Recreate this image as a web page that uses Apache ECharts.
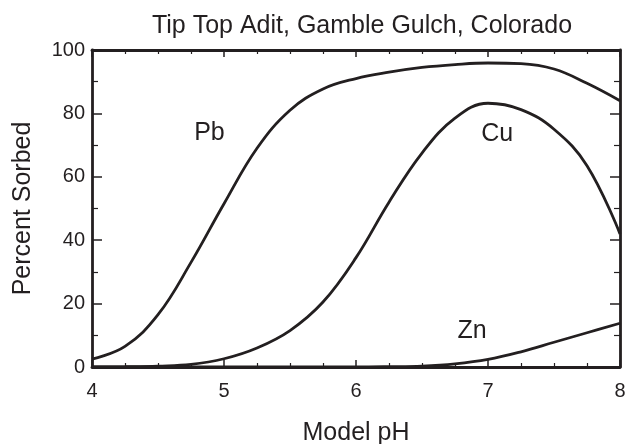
<!DOCTYPE html>
<html>
<head>
<meta charset="utf-8">
<script src="https://cdn.jsdelivr.net/npm/echarts@6/dist/echarts.min.js"></script>
<style>
  html, body { margin: 0; padding: 0; background: #fff; }
  #chart { width: 626px; height: 444px; }
</style>
</head>
<body>
<div id="chart"></div>
<script>
var phPb = [4.0, 4.25, 4.5, 4.75, 5.0, 5.25, 5.5, 5.75, 6.0, 6.25, 6.5, 6.75, 7.0, 7.25, 7.5, 7.75, 8.0];
var pb   = [2.5, 6.5, 16.5, 33, 51.5, 69, 81, 87.7, 91, 93, 94.5, 95.4, 95.9, 95.7, 94, 89.5, 84];

var phCu = [4.0, 4.25, 4.5, 4.75, 5.0, 5.25, 5.5, 5.75, 6.0, 6.25, 6.5, 6.75, 7.0, 7.25, 7.5, 7.75, 8.0];
var cu   = [0, 0.1, 0.3, 0.8, 2.6, 6, 11.5, 20.5, 34.5, 52, 67.5, 78.5, 83.2, 81.2, 75, 63.5, 42];

var phZn = [4.0, 5.0, 6.0, 6.25, 6.5, 6.75, 7.0, 7.25, 7.5, 7.75, 8.0];
var zn   = [0, 0, 0, 0.1, 0.3, 1, 2.4, 4.8, 7.8, 10.8, 13.8];

// curve labels: name, pH, percent
var labelNames = ['Pb', 'Cu', 'Zn'];
var labelPh    = [4.89, 7.07, 6.88];
var labelPct   = [73.8, 73.5, 11.4];

var ink = '#231f20';
var font = 'Arial, "Liberation Sans", Helvetica, sans-serif';

function pairs(xs, ys) {
    var out = [];
    for (var i = 0; i < xs.length; i++) {
        out.push([xs[i], ys[i]]);
    }
    return out;
}

function curve(name, xs, ys) {
    return {
        name: name,
        type: 'line',
        data: pairs(xs, ys),
        smooth: 0.4,
        showSymbol: false,
        lineStyle: { color: ink, width: 2.8 },
        z: 3
    };
}

var labelData = [];
for (var i = 0; i < labelNames.length; i++) {
    labelData.push({ name: labelNames[i], value: [labelPh[i], labelPct[i]] });
}

function xAxisCfg(pos, showLabels) {
    return {
        type: 'value', position: pos, min: 4, max: 8, interval: 1,
        axisLine: { show: true, onZero: false, lineStyle: { color: ink, width: 2.8 } },
        axisTick: { show: true, inside: true, length: 7, lineStyle: { color: ink, width: 1.5 } },
        minorTick: { show: true, splitNumber: 4, length: 4, lineStyle: { color: ink, width: 1.2 } },
        splitLine: { show: false },
        axisLabel: { show: showLabels, color: ink, fontSize: 20, fontFamily: font, margin: 14 }
    };
}

function yAxisCfg(pos, showLabels) {
    return {
        type: 'value', position: pos, min: 0, max: 100, interval: 20,
        axisLine: { show: true, onZero: false, lineStyle: { color: ink, width: 2.8 } },
        axisTick: { show: true, inside: true, length: 10, lineStyle: { color: ink, width: 1.5 } },
        minorTick: { show: true, splitNumber: 2, length: 6, lineStyle: { color: ink, width: 1.2 } },
        splitLine: { show: false },
        axisLabel: { show: showLabels, color: ink, fontSize: 20, fontFamily: font, margin: 7 }
    };
}

var bottomX = xAxisCfg('bottom', true);
bottomX.name = 'Model pH';
bottomX.nameLocation = 'middle';
bottomX.nameGap = 54;
bottomX.nameTextStyle = { color: ink, fontSize: 25, fontFamily: font };

var leftY = yAxisCfg('left', true);
leftY.name = 'Percent Sorbed';
leftY.nameLocation = 'middle';
leftY.nameGap = 56;
leftY.nameTextStyle = { color: ink, fontSize: 25, fontFamily: font };

var option = {
    backgroundColor: '#fff',
    animation: false,
    title: {
        text: 'Tip Top Adit, Gamble Gulch, Colorado',
        left: 357, top: 9, textAlign: 'center',
        textStyle: { color: ink, fontSize: 25, fontWeight: 'normal', fontFamily: font }
    },
    grid: { left: 92, right: 6, top: 50, bottom: 77, containLabel: false, outerBoundsMode: 'none' },
    xAxis: [bottomX, xAxisCfg('top', false)],
    yAxis: [leftY, yAxisCfg('right', false)],
    series: [
        curve('Pb', phPb, pb),
        curve('Cu', phCu, cu),
        curve('Zn', phZn, zn),
        {
            type: 'scatter',
            data: labelData,
            symbolSize: 0,
            silent: true,
            itemStyle: { opacity: 1 },
            label: {
                show: true, position: 'inside', formatter: '{b}',
                color: ink, opacity: 1, fontSize: 25, fontFamily: font
            }
        }
    ]
};

var myChart = echarts.init(document.getElementById('chart'), null, { renderer: 'canvas' });
myChart.setOption(option);
</script>
</body>
</html>
